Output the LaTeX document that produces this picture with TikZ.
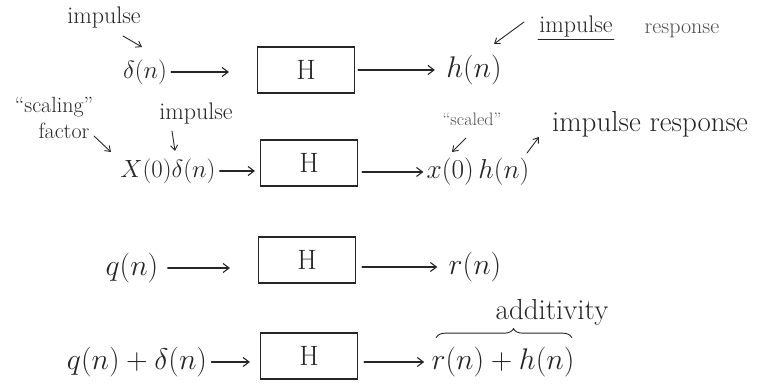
\documentclass[tikz,border=0pt]{standalone}
\usetikzlibrary{arrows.meta,decorations.pathreplacing}
\begin{document}
\begin{tikzpicture}[x=1pt,y=-1pt,
  ink/.style={draw=black!85, line width=1.1pt, line cap=round},
  sysbox/.style={ink, minimum width=97pt, minimum height=46pt, inner sep=0pt, text=black!85, font=\fontsize{28}{32}\selectfont},
  flow/.style={ink, -{Straight Barb[length=6pt,width=9pt]}},
  note/.style={ink, line width=0.9pt, -{Straight Barb[length=5pt,width=7pt]}},
  mathlbl/.style={inner sep=1pt, text=black!85, font=\fontsize{25}{30}\selectfont},
  bigmath/.style={mathlbl, scale=1.2},
  txt/.style={inner sep=1pt, text=black!85, font=\fontsize{24}{28}\selectfont},
  smalltxt/.style={inner sep=1pt, text=black!70, font=\fontsize{22}{26}\selectfont},
]
\useasboundingbox (0,0) rectangle (764,387);

% ---------- row 1 ----------
\node[sysbox] (H1) at (306,70) {H};
\node[mathlbl] (d1) at (145,72) {$\delta(n)$};
\node[bigmath] (h1) at (474,70) {$h(n)$};
\draw[flow, shorten <=3pt, shorten >=28pt] (d1.east) -- (d1.east -| H1.west);
\draw[flow, shorten <=3pt, shorten >=10pt] (H1.east |- h1.west) -- (h1.west);

\node[txt] (imp1) at (104,18) {impulse};
\coordinate (a1s) at (123,36);
\coordinate (a1e) at (142,47);
\draw[note] (a1s) -- (a1e);

\node[txt] (imp2) at (576,27) {impulse};
\draw[ink, line width=0.9pt] ([yshift=-1pt]imp2.south west) -- ([yshift=-1pt]imp2.south east);
\node[smalltxt] (resp1) at (682,31) {response};
\coordinate (a2s) at (524,22);
\coordinate (a2e) at (494,44);
\draw[note] (a2s) -- (a2e);

% ---------- row 2 ----------
\node[sysbox] (H2) at (309,163) {H};
\node[mathlbl] (xd) at (168,171) {$X(0)\delta(n)$};
\node[mathlbl, scale=1.1] (xh) at (478,172) {$x(0)\,h(n)$};
\draw[flow, shorten <=3pt, shorten >=5pt] (xd.east) -- (xd.east -| H2.west);
\draw[flow, shorten <=4pt, shorten >=2pt] (H2.east |- xh.west) -- (xh.west);

\node[txt, font=\fontsize{22}{26}\selectfont] (scal) at (54,107) {``scaling''};
\node[txt, font=\fontsize{22}{26}\selectfont] (fact) at (64,131) {factor};
\coordinate (a3s) at (94,136);
\coordinate (a3e) at (111,152);
\draw[note] (a3s) -- (a3e);

\node[txt] (imp3) at (196,114) {impulse};
\coordinate (a4s) at (172,131);
\coordinate (a4e) at (175,151);
\draw[note] (a4s) -- (a4e);

\node[smalltxt, font=\fontsize{18}{22}\selectfont] (scaled) at (472,119) {``scaled''};
\coordinate (a5s) at (466,138);
\coordinate (a5e) at (452,152);
\draw[note] (a5s) -- (a5e);
\coordinate (a6s) at (527,153);
\coordinate (a6e) at (539,137);
\draw[note] (a6s) -- (a6e);
\node[txt, font=\fontsize{29}{33}\selectfont] (imp4) at (650,124) {impulse response};

% ---------- row 3 ----------
\node[sysbox] (H3) at (307,260) {H};
\node[bigmath] (q) at (132,268) {$q(n)$};
\node[bigmath] (r) at (475,267) {$r(n)$};
\draw[flow, shorten <=8pt, shorten >=28pt] (q.east) -- (q.east -| H3.west);
\draw[flow, shorten <=6pt, shorten >=10pt] (H3.east |- r.west) -- (r.west);

% ---------- row 4 ----------
\node[sysbox] (H4) at (309,356) {H};
\node[bigmath] (qd) at (137,362) {$q(n)+\delta(n)$};
\node[bigmath] (rh) at (503,362) {$r(n)+h(n)$};
\draw[flow, shorten <=3pt, shorten >=10pt] (qd.east) -- (qd.east -| H4.west);
\draw[flow, shorten <=6pt, shorten >=6pt] (H4.east |- rh.west) -- (rh.west);

\node[txt, font=\fontsize{29}{33}\selectfont] (add) at (552,312) {additivity};
\draw[ink, line width=0.9pt, decorate, decoration={brace, amplitude=9pt, aspect=0.57}]
  ([xshift=6pt, yshift=8pt]rh.north west) -- ([xshift=-4pt, yshift=8pt]rh.north east);
\end{tikzpicture}
\end{document}
